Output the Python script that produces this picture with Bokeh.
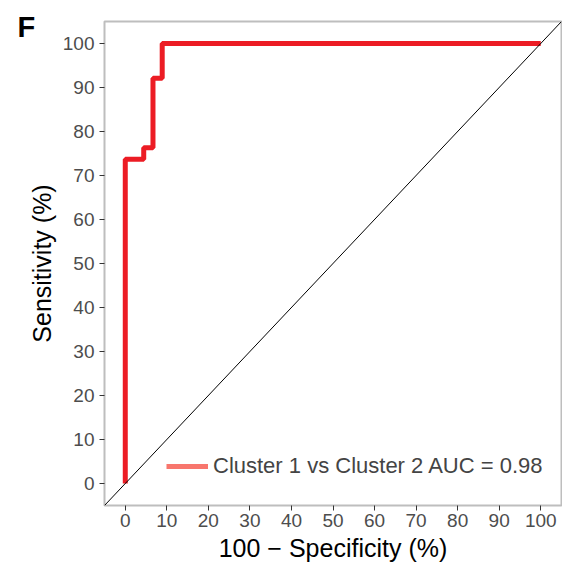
import math
from bokeh.plotting import figure
from bokeh.models import Range1d, FixedTicker, Slope, Legend, LegendItem, Title
from bokeh.embed import file_html
from bokeh.resources import INLINE

# ROC curve points (100 - specificity, sensitivity)
fpr = [0.0, 0.0, 4.44, 4.44, 6.67, 6.67, 8.89, 8.89, 100.0]
tpr = [0.0, 73.68, 73.68, 76.32, 76.32, 92.11, 92.11, 100.0, 100.0]
ticks = [0, 10, 20, 30, 40, 50, 60, 70, 80, 90, 100]
legend_label = "Cluster 1 vs Cluster 2 AUC = 0.98"
panel_tag = "F"

FONT = "Liberation Sans"

p = figure(width=562, height=566, output_backend="svg", toolbar_location=None,
           x_range=Range1d(-5, 105), y_range=Range1d(-5, 105),
           min_border_left=104, min_border_right=1, min_border_top=21, min_border_bottom=61)

p.title = Title(text=panel_tag, align="left", offset=-87, standoff=-42,
                text_font=FONT, text_font_size="29px", text_font_style="bold",
                text_color="black")

p.background_fill_color = "white"
p.border_fill_color = "white"
p.outline_line_color = "#BEBEBE"
p.outline_line_width = 2
p.grid.visible = False

for ax in (p.xaxis[0], p.yaxis[0]):
    ax.ticker = FixedTicker(ticks=ticks)
    ax.axis_line_color = None
    ax.major_tick_line_color = "#333333"
    ax.major_tick_line_width = 1
    ax.major_tick_out = 5
    ax.major_tick_in = 0
    ax.minor_tick_line_color = None
    ax.major_label_text_font = FONT
    ax.major_label_text_font_size = "19px"
    ax.major_label_text_color = "#4D4D4D"
    ax.axis_label_text_font = FONT
    ax.axis_label_text_font_size = "25px"
    ax.axis_label_text_font_style = "normal"
    ax.axis_label_text_color = "black"

p.xaxis.axis_label = "100 \u2212 Specificity (%)"
p.yaxis.axis_label = "Sensitivity (%)"
p.xaxis.major_label_standoff = 3
p.yaxis.major_label_standoff = 5
p.xaxis.axis_label_standoff = 4
p.yaxis.axis_label_standoff = 4

p.add_layout(Slope(gradient=1, y_intercept=0, line_color="black", line_width=1))

p.line(fpr, tpr, line_color="#EC1C24", line_width=5)

dummy = p.line([math.nan], [math.nan], line_color="#F8766D", line_width=5)
legend = Legend(items=[LegendItem(label=legend_label, renderers=[dummy])],
                location=(62, 26), border_line_color=None, background_fill_alpha=0,
                label_text_font=FONT, label_text_font_size="22px",
                label_height=24, glyph_height=24,
                glyph_width=42, label_standoff=5, padding=0, margin=0, spacing=0)
p.add_layout(legend, "center")

open("out.html", "w").write(file_html(p, INLINE))
